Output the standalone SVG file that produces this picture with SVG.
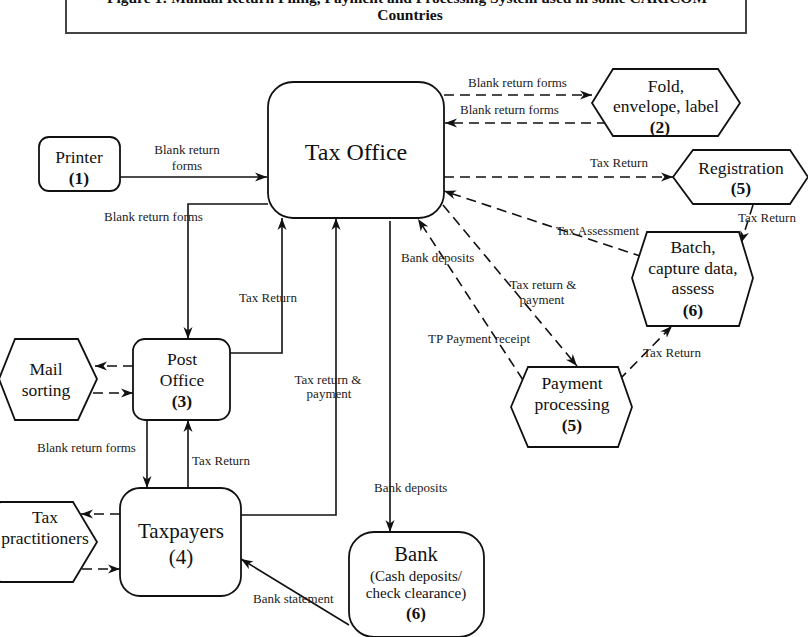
<svg xmlns="http://www.w3.org/2000/svg" width="808" height="637" viewBox="0 0 808 637">
<defs>
<style>
.node{fill:#fff;stroke:#111;stroke-width:1.8}
.t{font-family:"Liberation Serif","Times New Roman",serif;fill:#111;text-anchor:middle}
.nt{font-size:17.5px}
.b{font-weight:bold}
.lb{font-family:"Liberation Serif","Times New Roman",serif;font-size:13px;fill:#222}
.c{fill:none;stroke:#111;stroke-width:1.6;marker-end:url(#ah)}
.d{stroke-dasharray:10,6}
</style>
<marker id="ah" markerUnits="userSpaceOnUse" markerWidth="14" markerHeight="10" refX="12" refY="5" orient="auto">
<path d="M0,0.5 L12,5 L0,9.5 L3.5,5 z" fill="#111"/>
</marker>
</defs>
<rect width="808" height="637" fill="#fff"/>
<g id="title">
<rect x="66" y="-20" width="680" height="53" fill="#fff" stroke="#444" stroke-width="2"/>
<text class="t b" x="407" y="3" font-size="15.5px">Figure 1: Manual Return Filing, Payment and Processing System used in some CARICOM</text>
<text class="t b" x="410" y="20" font-size="15.5px">Countries</text>
</g>
<g id="connectors">
<path class="c" d="M120,177 L267,177"/>
<path class="c" d="M268,204 L188,204 L188,339"/>
<path class="c d" d="M444,95 L592,95"/>
<path class="c d" d="M607,123 L445,123"/>
<path class="c d" d="M444,177 L673,177"/>
<path class="c d" d="M753,205 L741,243"/>
<path class="c d" d="M643,257 L444,191"/>
<path class="c d" d="M523,380 L418,219"/>
<path class="c d" d="M443,205 L577,366"/>
<path class="c d" d="M619,380 L672,326"/>
<path class="c d" d="M133,366 L95,366"/>
<path class="c d" d="M93,393 L133,393"/>
<path class="c" d="M230,353 L282,353 L282,218"/>
<path class="c" d="M147,420 L147,488"/>
<path class="c" d="M188,488 L188,420"/>
<path class="c d" d="M120,514 L81,514"/>
<path class="c d" d="M82,569 L120,569"/>
<path class="c" d="M241,515 L336,515 L336,218"/>
<path class="c" d="M390,221 L390,532"/>
<path class="c" d="M349,625 L241,559"/>
</g>
<g id="labels">
<text class="lb" x="187" y="154" text-anchor="middle">Blank return</text>
<text class="lb" x="187" y="170" text-anchor="middle">forms</text>
<text class="lb" x="104" y="221">Blank return forms</text>
<text class="lb" x="468" y="87">Blank return forms</text>
<text class="lb" x="460" y="114">Blank return forms</text>
<text class="lb" x="590" y="167">Tax Return</text>
<text class="lb" x="738" y="222">Tax Return</text>
<text class="lb" x="556" y="235">Tax Assessment</text>
<text class="lb" x="401" y="262">Bank deposits</text>
<text class="lb" x="543" y="289" text-anchor="middle">Tax return &amp;</text>
<text class="lb" x="542" y="304" text-anchor="middle">payment</text>
<text class="lb" x="428" y="343">TP Payment receipt</text>
<text class="lb" x="643" y="357">Tax Return</text>
<text class="lb" x="239" y="302">Tax Return</text>
<text class="lb" x="37" y="452">Blank return forms</text>
<text class="lb" x="192" y="465">Tax Return</text>
<text class="lb" x="328" y="384" text-anchor="middle">Tax return &amp;</text>
<text class="lb" x="329" y="398" text-anchor="middle">payment</text>
<text class="lb" x="374" y="492">Bank deposits</text>
<text class="lb" x="253" y="603">Bank statement</text>
</g>
<g id="tax-office">
<rect class="node" x="268" y="82" width="176" height="136" rx="25"/>
<text class="t" x="356" y="160" font-size="24px">Tax Office</text>
</g>
<g id="printer">
<rect class="node" x="39" y="137" width="81" height="54" rx="10"/>
<text class="t nt" x="79" y="163">Printer</text>
<text class="t nt b" x="79" y="184">(1)</text>
</g>
<g id="fold">
<polygon class="node" points="592,103 613,69 718,69 740,103 718,136 613,136"/>
<text class="t nt" x="666" y="92">Fold,</text>
<text class="t nt" x="666" y="112">envelope, label</text>
<text class="t nt b" x="660" y="133">(2)</text>
</g>
<g id="registration">
<polygon class="node" points="673,177 693,150 790,150 808,177 790,204 693,204"/>
<text class="t nt" x="741" y="174">Registration</text>
<text class="t nt b" x="741" y="194">(5)</text>
</g>
<g id="batch">
<polygon class="node" points="632,278 647,232 739,232 753,278 739,326 647,326"/>
<text class="t nt" x="693" y="253">Batch,</text>
<text class="t nt" x="693" y="274">capture data,</text>
<text class="t nt" x="693" y="294">assess</text>
<text class="t nt b" x="693" y="316">(6)</text>
</g>
<g id="payment-processing">
<polygon class="node" points="511,407 528,367 618,367 632,407 618,447 528,447"/>
<text class="t nt" x="572" y="389">Payment</text>
<text class="t nt" x="572" y="410">processing</text>
<text class="t nt b" x="572" y="431">(5)</text>
</g>
<g id="mail-sorting">
<polygon class="node" points="-1,379 15,339 78,339 97,379 78,420 15,420"/>
<text class="t nt" x="46" y="375">Mail</text>
<text class="t nt" x="46" y="396">sorting</text>
</g>
<g id="post-office">
<rect class="node" x="133" y="339" width="97" height="81" rx="12"/>
<text class="t nt" x="182" y="365">Post</text>
<text class="t nt" x="182" y="386">Office</text>
<text class="t nt b" x="182" y="407">(3)</text>
</g>
<g id="tax-practitioners">
<polygon class="node" points="-22,542 0,502 73,502 97,542 73,582 0,582"/>
<text class="t nt" x="45" y="523">Tax</text>
<text class="t nt" x="45" y="544">practitioners</text>
</g>
<g id="taxpayers">
<rect class="node" x="120" y="488" width="121" height="108" rx="20"/>
<text class="t" x="181" y="538" font-size="21px">Taxpayers</text>
<text class="t" x="181" y="564" font-size="21px">(4)</text>
</g>
<g id="bank">
<rect class="node" x="349" y="532" width="135" height="105" rx="25"/>
<text class="t" x="416" y="561" font-size="20.5px">Bank</text>
<text class="t" x="416" y="581" font-size="15px">(Cash deposits/</text>
<text class="t" x="416" y="598" font-size="15px">check clearance)</text>
<text class="t b" x="416" y="619" font-size="17px">(6)</text>
</g>
</svg>
